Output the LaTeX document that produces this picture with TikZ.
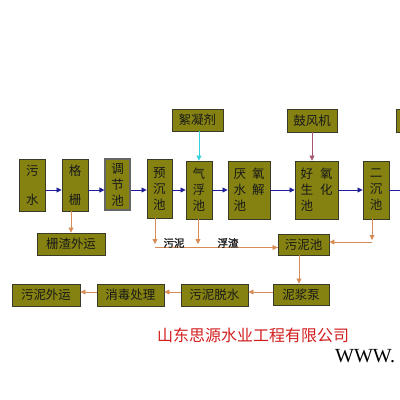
\documentclass[tikz,border=0pt]{standalone}
\usepackage{fontspec}
\setmainfont{Liberation Serif}
\newfontfamily\cjk{Noto Sans CJK SC}
\newfontfamily\cjkb[FakeBold=2]{Noto Sans CJK SC}
\usetikzlibrary{arrows.meta}
\definecolor{boxfill}{RGB}{133,130,18}
\definecolor{boxline}{RGB}{58,58,40}
\definecolor{flowblue}{RGB}{30,30,150}
\definecolor{sludge}{RGB}{215,140,85}
\definecolor{feedcyan}{RGB}{50,210,225}
\definecolor{airmauve}{RGB}{165,85,115}
\definecolor{corpred}{RGB}{210,30,30}
\tikzset{
  box/.style={draw=boxline, fill=boxfill, line width=0.9pt, inner sep=0pt,
    text=black!90, font=\cjk\fontsize{12.5}{16}\selectfont, align=center},
  hbox/.style={box, font=\cjk\fontsize{12.5}{15}\selectfont},
  tip/.style={-{Triangle[length=5pt,width=5pt]}},
  blueflow/.style={draw=flowblue, line width=0.8pt, tip},
  sludgeflow/.style={draw=sludge, line width=0.8pt, tip},
  sludgeline/.style={draw=sludge, line width=0.8pt},
  lbl/.style={font=\cjkb\fontsize{10.5}{12}\selectfont, text=black!85, inner sep=0pt}
}
\begin{document}
\begin{tikzpicture}[x=1pt,y=-1pt]
\useasboundingbox (0,0) rectangle (400,400);
\clip (0,0) rectangle (400,400);
\fill[white] (0,0) rectangle (400,400);
% main line boxes
\node[box, minimum width=26pt, minimum height=52pt] (wushui) at (32.5,185) {污\\[13pt]水};
\node[box, minimum width=26pt, minimum height=52pt] (geshan) at (75,185) {格\\[13pt]栅};
\node[box, minimum width=25pt, minimum height=51pt, draw=black!60, line width=1.2pt] (tiaojie) at (117.5,184.5) {调\\节\\池};
\node[box, minimum width=25pt, minimum height=59pt] (yuchen) at (159.5,188.5) {预\\沉\\池};
\node[box, minimum width=26pt, minimum height=58pt] (qifu) at (199,190) {气\\浮\\池};
\node[box, minimum width=42pt, minimum height=58pt, align=left] (yanyang) at (249,190) {厌\hspace{6pt}氧\\水\hspace{6pt}解\\池};
\node[box, minimum width=43pt, minimum height=58pt, align=left] (haoyang) at (316.5,190) {好\hspace{7pt}氧\\生\hspace{7pt}化\\池};
\node[box, minimum width=26pt, minimum height=58pt] (erchen) at (376,190) {二\\沉\\池};
% feed boxes
\node[hbox, minimum width=51pt, minimum height=22pt] (xuning) at (197.5,120) {絮凝剂};
\node[hbox, minimum width=50pt, minimum height=23pt] (gufeng) at (312,120.5) {鼓风机};
\node[hbox, minimum width=50pt, minimum height=23pt] (rightbox) at (421,120.5) {};
% sludge boxes
\node[hbox, minimum width=68pt, minimum height=22pt] (zhazha) at (71,244) {栅渣外运};
\node[hbox, minimum width=51pt, minimum height=21pt] (wunichi) at (303.5,244.5) {污泥池};
\node[hbox, minimum width=56pt, minimum height=21pt] (nijiang) at (301,294.5) {泥浆泵};
\node[hbox, minimum width=67pt, minimum height=22pt] (tuoshui) at (214.5,295) {污泥脱水};
\node[hbox, minimum width=67pt, minimum height=22pt] (xiaodu) at (130.5,295) {消毒处理};
\node[hbox, minimum width=68pt, minimum height=22pt] (waiyun) at (46,295) {污泥外运};
% coordinates
\coordinate (ymain) at (0,190);
\coordinate (edge) at (410,190);
\coordinate (ycdown) at (155,244);
\coordinate (qfdown) at (198,244);
\coordinate (hline) at (155,247.5);
\coordinate (ecorner) at (372,242);
\coordinate (ecornertop) at (372,240);
% main flow
\draw[blueflow] (wushui.east |- ymain) -- (geshan.west |- ymain);
\draw[blueflow] (geshan.east |- ymain) -- (tiaojie.west |- ymain);
\draw[blueflow] (tiaojie.east |- ymain) -- (yuchen.west |- ymain);
\draw[blueflow] (yuchen.east |- ymain) -- (qifu.west |- ymain);
\draw[blueflow] (qifu.east |- ymain) -- (yanyang.west |- ymain);
\draw[blueflow] (yanyang.east |- ymain) -- (haoyang.west |- ymain);
\draw[blueflow] (haoyang.east |- ymain) -- (erchen.west |- ymain);
\draw[draw=flowblue, line width=0.8pt] (erchen.east |- ymain) -- (edge);
% feeds
\draw[draw=feedcyan, line width=0.8pt, tip] (xuning.south -| qifu.north) -- (qifu.north);
\draw[draw=airmauve, line width=0.8pt, tip] (gufeng.south) -- (gufeng.south |- haoyang.north);
% screen residue
\draw[sludgeflow] (zhazha.north -| 71,0) ++(0,-22) -- (zhazha.north -| 71,0);
% sludge collection
\draw[sludgeflow] (yuchen.south -| ycdown) -- (ycdown);
\draw[sludgeflow] (qifu.south -| qfdown) -- (qfdown);
\draw[sludgeline] (hline) -- (wunichi.west |- hline);
\draw[sludgeflow] (qfdown |- hline) -- (wunichi.west |- hline);
\draw[sludgeflow] (erchen.south -| ecorner) -- (ecornertop);
\draw[sludgeflow] (ecorner) -- (wunichi.east |- ecorner);
\draw[sludgeflow] (wunichi.south -| 299,0) -- (nijiang.north -| 299,0);
\draw[sludgeflow] (nijiang.west |- 0,292) -- (tuoshui.east |- 0,292);
\draw[sludgeflow] (tuoshui.west |- 0,292) -- (xiaodu.east |- 0,292);
\draw[sludgeflow] (xiaodu.west |- 0,292) -- (waiyun.east |- 0,292);
% labels
\node[lbl] (wuni) at (174,243) {污泥};
\node[lbl] (fuzha) at (228,243) {浮渣};
% company
\node[font=\cjk\fontsize{16}{18}\selectfont, text=corpred, anchor=west, inner sep=0pt] (corp) at (157,335.5) {山东思源水业工程有限公司};
\node[font=\fontsize{20}{22}\selectfont, anchor=base west, inner sep=0pt] (www) at (335,362) {WWW.};
\end{tikzpicture}
\end{document}
